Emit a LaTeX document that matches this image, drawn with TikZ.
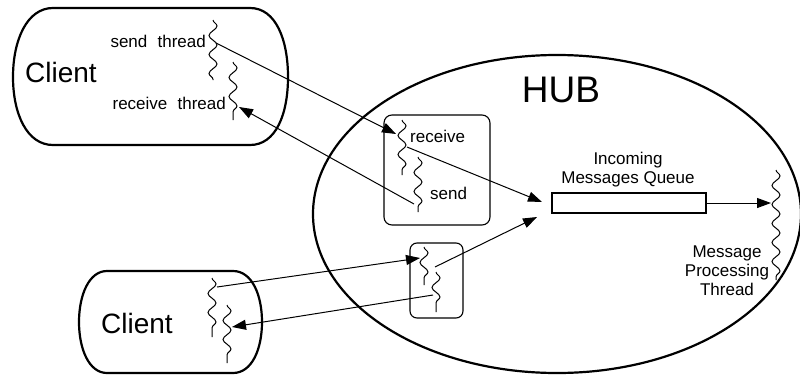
\documentclass[tikz,border=0pt]{standalone}
\usepackage{fontspec}
\setmainfont{Liberation Sans}
\usetikzlibrary{arrows.meta,decorations.pathmorphing}
\begin{document}
\begin{tikzpicture}[x=1pt,y=-1pt,
  thickline/.style={line width=2.2pt},
  thinbox/.style={draw,line width=1.1pt,rounded corners=8pt},
  wavy/.style={line width=1pt,decorate,decoration={snake,segment length=19pt,amplitude=4pt}},
  conn/.style={line width=1pt,-{Triangle[length=14pt,width=10pt]}},
  small/.style={font=\fontsize{17}{19}\selectfont,inner sep=0pt},
  big/.style={font=\fontsize{28}{30}\selectfont,inner sep=0pt}]
\useasboundingbox (0,0) rectangle (800,375);
% HUB ellipse
\draw[thickline] (557,214) ellipse [x radius=244, y radius=159];
\node[font=\fontsize{37}{40}\selectfont,inner sep=0pt] (hub) at (561,90) {HUB};
% top client
\draw[thickline] (53,8) -- (250,8) .. controls (276,8) and (288,40) .. (288,77)
  .. controls (288,114) and (276,145) .. (250,145) -- (53,145)
  .. controls (27,145) and (13,114) .. (13,77) .. controls (13,40) and (27,8) .. (53,8) -- cycle;
\node[big] (client1) at (61,72) {Client};
\node[small,anchor=east] (sendt) at (206,41) {send\hspace{0.6em}thread};
\node[small,anchor=east] (recvt) at (226,103) {receive\hspace{0.6em}thread};
\draw[wavy] (213,20) -- (213,80);
\draw[wavy] (233,62) -- (233,120);
\coordinate (c1send) at (216,43);
\coordinate (c1recv) at (239,107);
% bottom client
\draw[thickline] (107,271) -- (233,271) .. controls (252,271) and (262,295) .. (262,322)
  .. controls (262,349) and (252,373) .. (233,373) -- (107,373)
  .. controls (89,373) and (79,349) .. (79,322) .. controls (79,295) and (89,271) .. (107,271) -- cycle;
\node[big] (client2) at (137,323) {Client};
\draw[wavy] (212,278) -- (212,337);
\draw[wavy] (227,305) -- (227,363);
\coordinate (c2send) at (217,287);
\coordinate (c2recv) at (232,327);
% hub box 1
\draw[thinbox] (384,115) rectangle (490,225);
\node[small,anchor=west] (brecv) at (410,136) {receive};
\node[small,anchor=west] (bsend) at (430,193) {send};
\draw[wavy] (402,120) -- (402,175);
\draw[wavy] (418,157) -- (418,212);
\coordinate (b1recvin) at (396,134);
\coordinate (b1recvout) at (407,147);
\coordinate (b1send) at (414,204);
% hub box 2
\draw[thinbox,rounded corners=7pt] (410,243) rectangle (463,318);
\draw[wavy] (424,247) -- (424,285);
\draw[wavy] (436,272) -- (436,312);
\coordinate (b2recvin) at (420,258);
\coordinate (b2recvout) at (435,267);
\coordinate (b2send) at (433,295);
% queue
\node[draw,line width=1.3pt,minimum width=154pt,minimum height=20pt,inner sep=0pt] (queue) at (629,203) {};
\node[small,align=center] (qlabel) at (628,170) {Incoming\\Messages Queue};
\coordinate (qin1) at (542,202);
\coordinate (qin2) at (537,217);
% processing thread
\draw[wavy] (776,170) -- (776,280);
\coordinate (proc) at (771,203);
\node[small,align=center] (plabel) at (727,271) {Message\\Processing\\Thread};
% connectors
\draw[conn] (c1send) -- (b1recvin);
\draw[conn] (b1send) -- (c1recv);
\draw[conn] (b1recvout) -- (qin1);
\draw[conn] (b2recvout) -- (qin2);
\draw[conn] (c2send) -- (b2recvin);
\draw[conn] (b2send) -- (c2recv);
\draw[conn] (queue.east) -- (proc);
\end{tikzpicture}
\end{document}
